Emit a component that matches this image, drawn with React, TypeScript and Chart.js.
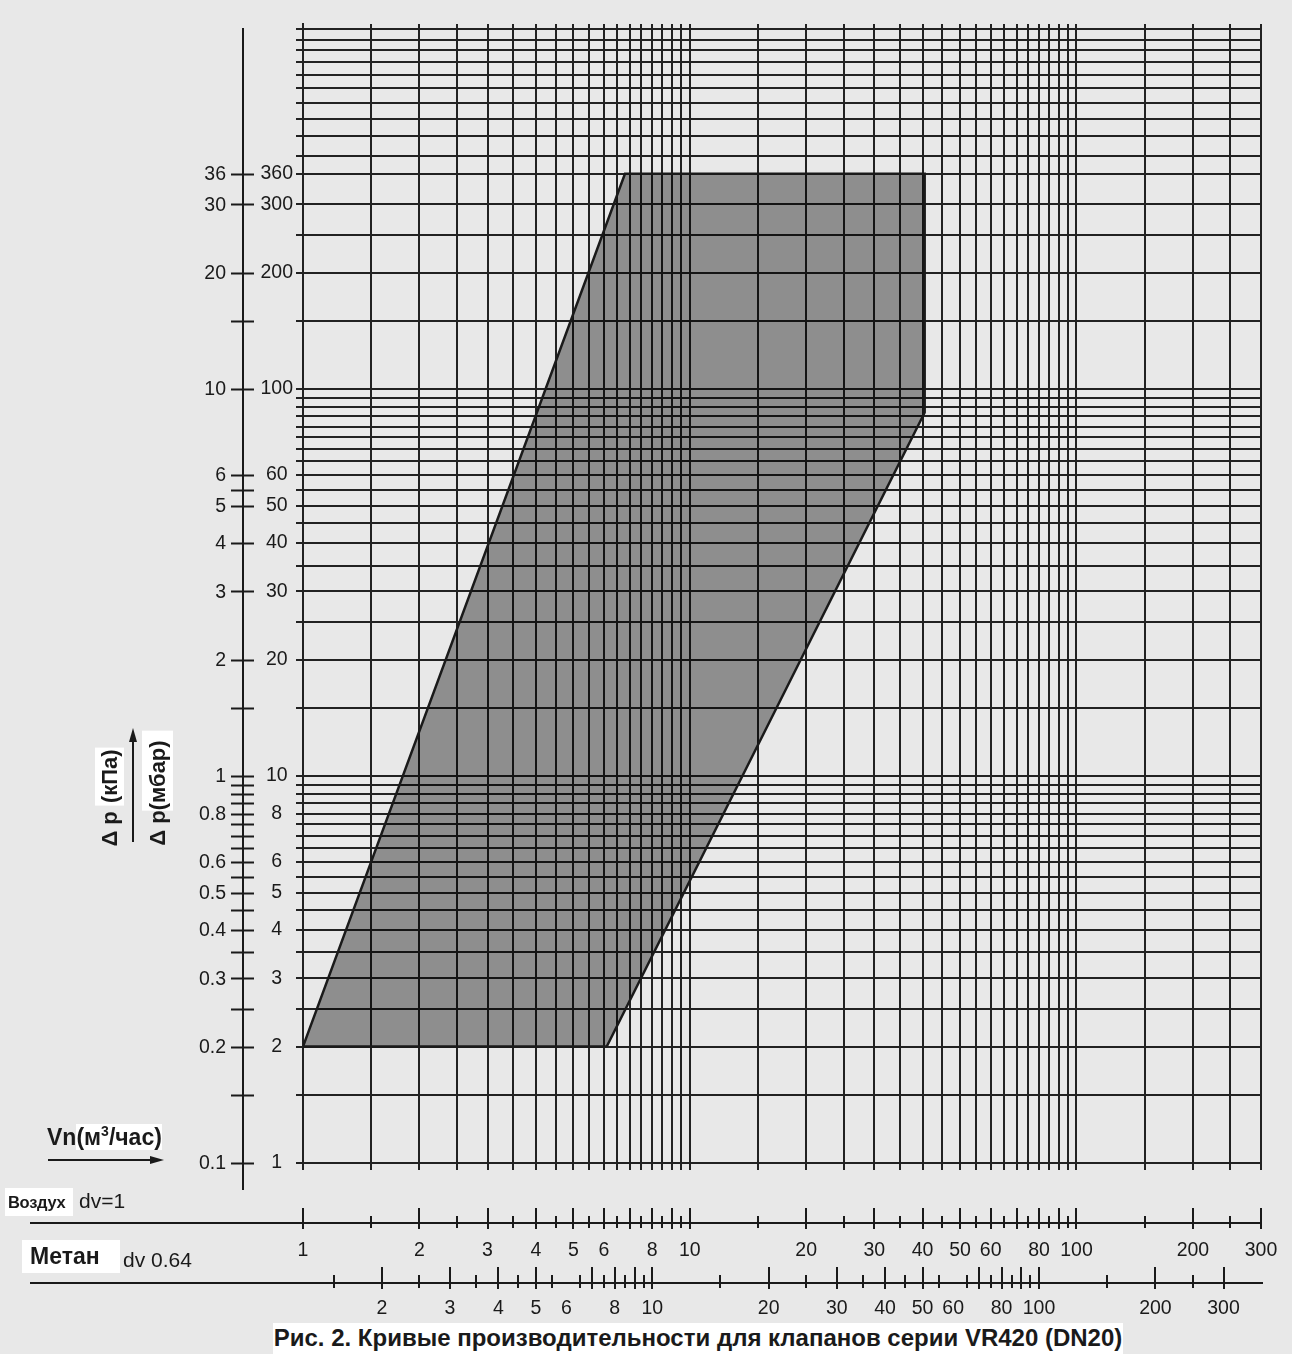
import React, { useEffect, useRef } from 'react';
import { Chart, registerables } from 'chart.js';

Chart.register(...registerables);

// ---------- data ----------
// vertical grid lines (flow, m3/h, air)
const FLOW_GRID = [1, 1.5, 2, 2.5, 3, 3.5, 4, 4.5, 5, 5.5, 6, 6.5, 7, 7.5, 8, 8.5, 9, 9.5, 10,
  15, 20, 25, 30, 35, 40, 45, 50, 55, 60, 65, 70, 75, 80, 85, 90, 95, 100, 150, 200, 250, 300];
// horizontal grid lines (pressure drop, mbar)
const PRESSURE_GRID = [1, 1.5, 2, 2.5, 3, 3.5, 4, 4.5, 5, 5.5, 6, 6.5, 7, 7.5, 8, 8.5, 9, 9.5, 10,
  15, 20, 25, 30, 35, 40, 45, 50, 55, 60, 65, 70, 75, 80, 85, 90, 95, 100,
  150, 200, 250, 300, 360, 400, 450, 500, 550, 600, 650, 700, 750, 800, 850];
const FLOW_MIN = 1;
const FLOW_MAX = 300;
const DP_MIN = 1;
const DP_MAX = 878;
// labelled mbar values
const MBAR_LABELS = [1, 2, 3, 4, 5, 6, 8, 10, 20, 30, 40, 50, 60, 100, 200, 300, 360];
// kPa axis ticks (placed at mbar values), labelled ones shown as kPa
const KPA_TICKS = [1, 1.5, 2, 2.5, 3, 3.5, 4, 4.5, 5, 5.5, 6, 6.5, 7, 7.5, 8, 8.5, 9, 9.5, 10,
  15, 20, 30, 40, 50, 55, 60, 100, 150, 200, 300, 360];
const KPA_LABELS = [1, 2, 3, 4, 5, 6, 8, 10, 20, 30, 40, 50, 60, 100, 200, 300, 360];
// air flow scale (dv = 1)
const AIR_MAJOR = [1, 2, 3, 4, 5, 6, 7, 8, 9, 10, 20, 30, 40, 50, 60, 70, 80, 90, 100, 200, 300];
const AIR_MINOR = [1.5, 2.5, 3.5, 4.5, 5.5, 6.5, 7.5, 8.5, 9.5, 15, 25, 35, 45, 55, 65, 75, 85, 95, 150, 250];
const AIR_LABELS = [1, 2, 3, 4, 5, 6, 8, 10, 20, 30, 40, 50, 60, 80, 100, 200, 300];
// methane flow scale (dv = 0.64)
const METHANE_DV = 0.64;
const METHANE_MAJOR = [2, 3, 4, 5, 7, 8, 9, 10, 20, 30, 40, 50, 70, 80, 90, 100, 200, 300];
const METHANE_MINOR = [1.5, 2.5, 3.5, 4.5, 5.5, 6.5, 7.5, 8.5, 9.5, 15, 25, 35, 45, 55, 65, 75, 85, 95, 150, 250];
const METHANE_LABELS = [2, 3, 4, 5, 6, 8, 10, 20, 30, 40, 50, 60, 80, 100, 200, 300];
// working zone polygon (air flow m3/h, dp mbar)
const ZONE_FLOW = [1, 6.8, 40.5, 40.5, 6.1, 1];
const ZONE_DP = [2, 360, 360, 87, 2, 2];

// ---------- style ----------
const BG = '#e8e8e8';
const INK = '#1a1a1a';
const GRID = '#222222';
const FONT = '"Liberation Sans", Arial, sans-serif';
const TICK_FONT = '19.5px ' + FONT;

const auxAxesPlugin = {
  id: 'auxAxes',
  afterDraw(chart: any) {
    const ctx: CanvasRenderingContext2D = chart.ctx;
    const xs = chart.scales.x;
    const ys = chart.scales.y;
    const methaneFactor = Math.sqrt(METHANE_DV);
    ctx.save();
    ctx.strokeStyle = INK;
    ctx.fillStyle = INK;
    ctx.lineWidth = 2;
    const seg = (x1: number, y1: number, x2: number, y2: number) => {
      ctx.beginPath();
      ctx.moveTo(x1, y1);
      ctx.lineTo(x2, y2);
      ctx.stroke();
    };

    // kPa axis
    const kx = 243;
    seg(kx, 28, kx, 1190);
    KPA_TICKS.forEach((v) => {
      const y = Math.round(ys.getPixelForValue(v)) + 0.5;
      seg(231, y, 254, y);
    });
    ctx.font = TICK_FONT;
    ctx.textAlign = 'right';
    ctx.textBaseline = 'middle';
    KPA_LABELS.forEach((v) => {
      const y = ys.getPixelForValue(v);
      ctx.fillText(String(v / 10), 226, y + 1);
    });

    // air scale
    const airY = 1223;
    const right = xs.getPixelForValue(FLOW_MAX);
    seg(30, airY, right, airY);
    AIR_MAJOR.forEach((v) => {
      const x = Math.round(xs.getPixelForValue(v));
      seg(x, 1208, x, 1229);
    });
    AIR_MINOR.forEach((v) => {
      const x = Math.round(xs.getPixelForValue(v));
      seg(x, 1216, x, 1228);
    });
    ctx.textAlign = 'center';
    AIR_LABELS.forEach((v) => {
      ctx.fillText(String(v), xs.getPixelForValue(v), 1251);
    });

    // methane scale
    const meY = 1283;
    seg(30, meY, right + 2, meY);
    METHANE_MAJOR.forEach((v) => {
      const x = Math.round(xs.getPixelForValue(v * methaneFactor));
      seg(x, 1267, x, 1289);
    });
    METHANE_MINOR.forEach((v) => {
      const x = Math.round(xs.getPixelForValue(v * methaneFactor));
      seg(x, 1275, x, 1288);
    });
    METHANE_LABELS.forEach((v) => {
      ctx.fillText(String(v), xs.getPixelForValue(v * methaneFactor), 1309);
    });

    // arrows
    ctx.lineWidth = 2;
    seg(48, 1160, 152, 1160);
    ctx.beginPath();
    ctx.moveTo(164, 1160);
    ctx.lineTo(150, 1156);
    ctx.lineTo(150, 1164);
    ctx.closePath();
    ctx.fill();
    seg(133, 842, 133, 740);
    ctx.beginPath();
    ctx.moveTo(133, 728);
    ctx.lineTo(129, 742);
    ctx.lineTo(137, 742);
    ctx.closePath();
    ctx.fill();
    ctx.restore();
  },
};

export default function App() {
  const ref = useRef<HTMLCanvasElement>(null);

  useEffect(() => {
    if (!ref.current) return;
    const points = ZONE_FLOW.map((x, i) => ({ x, y: ZONE_DP[i] }));
    const chart = new Chart(ref.current, {
      type: 'line',
      data: {
        datasets: [
          {
            data: points,
            borderColor: INK,
            borderWidth: 2.5,
            backgroundColor: 'rgba(0,0,0,0.39)',
            fill: 'shape',
            pointRadius: 0,
            tension: 0,
          } as any,
        ],
      },
      options: {
        responsive: false,
        animation: false,
        events: [],
        layout: { padding: { left: 241, right: 31, top: 24, bottom: 181 } },
        plugins: {
          legend: { display: false },
          tooltip: { enabled: false },
          title: { display: false },
        },
        scales: {
          x: {
            type: 'logarithmic',
            min: FLOW_MIN,
            max: FLOW_MAX,
            afterBuildTicks: (s: any) => {
              s.ticks = FLOW_GRID.map((value) => ({ value }));
            },
            afterFit: (s: any) => {
              s.height = 10;
            },
            ticks: { display: false, autoSkip: false },
            grid: { color: GRID, lineWidth: 2, drawTicks: true, tickLength: 7 },
            border: { display: true, color: GRID, width: 2 },
          },
          y: {
            type: 'logarithmic',
            min: DP_MIN,
            max: DP_MAX,
            afterBuildTicks: (s: any) => {
              s.ticks = PRESSURE_GRID.map((value) => ({ value }));
            },
            afterFit: (s: any) => {
              s.width = 62;
            },
            ticks: {
              autoSkip: false,
              crossAlign: 'center',
              padding: 3,
              color: INK,
              font: { family: FONT, size: 19.5 },
              callback: (v: any) => (MBAR_LABELS.includes(Number(v)) ? String(v) : ''),
            },
            grid: { color: GRID, lineWidth: 2, drawTicks: true, tickLength: 7 },
            border: { display: true, color: GRID, width: 2 },
          },
        },
      } as any,
      plugins: [auxAxesPlugin],
    });
    return () => chart.destroy();
  }, []);

  const abs = (s: React.CSSProperties): React.CSSProperties => ({ position: 'absolute', whiteSpace: 'nowrap', ...s });

  return (
    <div
      style={{
        position: 'absolute',
        left: 0,
        top: 0,
        width: 1292,
        height: 1354,
        background: BG,
        overflow: 'hidden',
        fontFamily: FONT,
        color: INK,
      }}
    >
      <canvas ref={ref} width={1292} height={1354} style={{ position: 'absolute', left: 0, top: 0 }} />

      {/* vertical axis titles */}
      <div style={abs({ left: 110, top: 797, transform: 'translate(-50%, -50%) rotate(-90deg)', fontSize: 22, fontWeight: 'bold', lineHeight: '26px' })}>
        Δ p <span style={{ background: '#fff', padding: '2px 2px' }}>(кПа)</span>
      </div>
      <div style={abs({ left: 158, top: 788, transform: 'translate(-50%, -50%) rotate(-90deg)', fontSize: 22, fontWeight: 'bold', lineHeight: '26px' })}>
        Δ p<span style={{ background: '#fff', padding: '3px 10px 3px 0' }}>(мбар)</span>
      </div>

      {/* flow label */}
      <div style={abs({ left: 47, top: 1124, fontSize: 23, fontWeight: 'bold', lineHeight: '26px' })}>
        Vn<span style={{ background: '#fff' }}>(м<sup style={{ fontSize: 14, lineHeight: 0 }}>3</sup>/час)</span>
      </div>

      {/* scale names */}
      <div style={abs({ left: 5, top: 1188, width: 68, height: 28, background: '#fff' })} />
      <div style={abs({ left: 8, top: 1188, height: 28, lineHeight: '28px', fontSize: 16.5, fontWeight: 'bold', letterSpacing: '-0.3px', fontFamily: '"Liberation Sans Narrow", "Liberation Sans", Arial, sans-serif' })}>
        Воздух
      </div>
      <div style={abs({ left: 79, top: 1188, height: 27, lineHeight: '26px', fontSize: 21 })}>dv=1</div>

      <div style={abs({ left: 22, top: 1240, width: 98, height: 33, background: '#fff' })} />
      <div style={abs({ left: 30, top: 1240, height: 33, lineHeight: '33px', fontSize: 23, fontWeight: 'bold' })}>Метан</div>
      <div style={abs({ left: 123, top: 1246, height: 28, lineHeight: '28px', fontSize: 21 })}>dv 0.64</div>

      {/* caption */}
      <div
        style={abs({
          left: 273,
          top: 1323,
          width: 850,
          height: 31,
          background: '#fff',
          textAlign: 'center',
          lineHeight: '29px',
          fontSize: 24,
          fontWeight: 'bold',
        })}
      >
        Рис. 2. Кривые производительности для клапанов серии VR420 (DN20)
      </div>
    </div>
  );
}
